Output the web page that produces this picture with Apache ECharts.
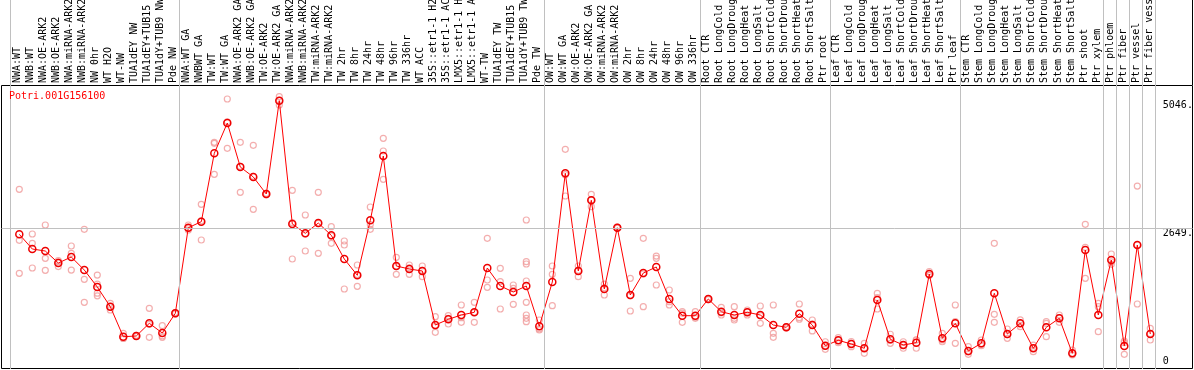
<!DOCTYPE html>
<html>
<head>
<meta charset="utf-8">
<script src="https://cdn.jsdelivr.net/npm/echarts/dist/echarts.min.js"></script>
<style>
html,body{margin:0;padding:0;background:#fff;}
#chart{width:1194px;height:370px;}
</style>
</head>
<body>
<div id="chart"></div>
<script>
const title = 'Potri.001G156100';

const categories = [
  'NWA:WT','NWB:WT','NWA:OE-ARK2','NWB:OE-ARK2','NWA:miRNA-ARK2','NWB:miRNA-ARK2','NW 0hr','WT H2O','WT-NW','TUA1dEY NW','TUA1dEY+TUB15 NW','TUA1dY+TUB9 NW','Pde NW',
  'NWA:WT GA','NWBWT GA','TW:WT','TW:WT GA','NWA:OE-ARK2 GA','NWB:OE-ARK2 GA','TW:OE-ARK2','TW:OE-ARK2 GA','NWA:miRNA-ARK2 GA','NWB:miRNA-ARK2 GA','TW:miRNA-ARK2','TW:miRNA-ARK2 GA',
  'TW 2hr','TW 8hr','TW 24hr','TW 48hr','TW 96hr','TW 336hr','WT ACC','35S::etr1-1 H2O','35S::etr1-1 ACC','LMX5::etr1-1 H2O','LMX5::etr1-1 ACC','WT-TW','TUA1dEY TW','TUA1dEY+TUB15 TW','TUA1dY+TUB9 TW','Pde TW',
  'OW:WT','OW:WT GA','OW:OE-ARK2','OW:OE-ARK2 GA','OW:miRNA-ARK2','OW:miRNA-ARK2 GA','OW 2hr','OW 8hr','OW 24hr','OW 48hr','OW 96hr','OW 336hr',
  'Root CTR','Root LongCold','Root LongDrought','Root LongHeat','Root LongSalt','Root ShortCold','Root ShortDrought','Root ShortHeat','Root ShortSalt','Ptr root',
  'Leaf CTR','Leaf LongCold','Leaf LongDrought','Leaf LongHeat','Leaf LongSalt','Leaf ShortCold','Leaf ShortDrought','Leaf ShortHeat','Leaf ShortSalt','Ptr leaf',
  'Stem CTR','Stem LongCold','Stem LongDrought','Stem LongHeat','Stem LongSalt','Stem ShortCold','Stem ShortDrought','Stem ShortHeat','Stem ShortSalt','Ptr shoot','Ptr xylem',
  'Ptr phloem','Ptr fiber','Ptr vessel','Ptr fiber vessel'
];

const means = [
  2536,2260,2222,1997,2110,1865,1546,1176,612,626,864,682,1052,
  2660,2773,4058,4627,3800,3613,3293,5046,2730,2555,2748,2517,
  2072,1766,2799,4007,1941,1884,1847,832,939,1020,1071,1903,1565,1452,1565,808,
  1640,3682,1847,3175,1509,2660,1396,1809,1922,1321,1007,1007,
  1321,1082,1020,1071,1020,832,789,1045,832,443,
  545,475,395,1302,564,456,500,1790,582,864,
  344,488,1428,663,864,395,789,958,301,2241,1020,
  2053,438,2335,663
];

const replicates = [
  [3381,2423,1803],[2542,2367,1903],[2711,2085,1860],[2020,1930,2040],[2316,2179,1865],[2630,1691,1259],[1771,1600,1430,1380],[1240,1114,1176],[676,582,580],[640,620,618],[1146,601,845],[819,600,627],[1052,1040,1065],
  [2711,2617,2652],[3100,2429,2790],[4264,3663,4246],[5078,4152,4650],[4264,3325,3811],[4208,3006,3625],[3293,3280,3305],[5121,4965,5052],[3363,2072,2755],[2899,2222,2544],[3325,2179,2740],[2679,2367,2505],
  [2410,2335,1509],[1959,1559,1780],[3049,2630,2720],[4340,4101,3569],[2104,1785,1934],[1959,1785,1908],[1941,1740,1860],[988,695,813],[1007,851,959],[1208,883,970],[1259,883,1071],[2461,1678,1540],[1897,1646,1133],[1584,1522,1221],[2805,2021,1978,1659,1259,1020,958,894],[738,926,760],
  [1941,1785,1195],[4133,3256,3657],[1941,1740,1860],[3288,3055,3182],[1602,1396,1530],[2660,2650,2670],[1710,1095,1383],[2461,1176,1790],[2128,2085,1584],[1490,1208,1270],[1082,883,1056],[1082,958,980],
  [1330,1310,1323],[1165,1020,1060],[1176,958,926],[1114,1020,1080],[1189,864,1007],[1208,676,601],[789,800,778],[1227,969,940],[926,720,850],[518,376,436],
  [594,500,541],[425,520,480],[488,301,396],[1428,1133,1345],[658,488,546],[518,395,455],[550,395,555],[1834,1771,1765],[676,518,552],[1208,488,896],
  [425,282,325],[550,443,471],[2367,1033,883],[757,582,650],[864,800,928],[456,331,398],[894,612,861],[1020,883,971],[269,363,301],[2724,1710,2289],[1240,1176,706],
  [2166,2020,1973],[532,282,500],[3443,1227,2335],[770,550,669]
];

const groupBoundaries = [0, 13, 41, 53, 63, 73, 84, 85, 86, 87, 88];
const referenceLine = 2649;
const yLabelValues = [5046, 2649];
const yLabelText = {5046: '5046.', 2649: '2649.', 0: '0'};

const FONT = 'DejaVu Sans Mono';
const N = categories.length;

const repData = [];
replicates.forEach((arr, i) => arr.forEach(v => repData.push([i, v])));

const gridBase = {containLabel: false, outerBoundsMode: 'none'};

const chart = echarts.init(document.getElementById('chart'), null, {renderer: 'canvas'});
chart.setOption({
  animation: false,
  backgroundColor: '#ffffff',
  title: {
    text: title, left: 9, top: 91, padding: 0,
    textStyle: {color: '#ff0000', fontSize: 10, fontFamily: FONT, fontWeight: 'normal'}
  },
  grid: [
    Object.assign({left: 12.8, top: 85, width: 1144, height: 284.3}, gridBase),
    Object.assign({left: 1.5, top: 85.5, width: 1191, height: 283, show: true, borderColor: '#000', borderWidth: 1, backgroundColor: 'transparent'}, gridBase),
    Object.assign({left: 10.5, top: 0, width: 1145, height: 369}, gridBase),
    Object.assign({left: 10.5, top: 85, width: 1145, height: 284}, gridBase)
  ],
  xAxis: [
    {gridIndex: 0, type: 'category', data: categories, boundaryGap: true, show: false},
    {gridIndex: 1, type: 'value', min: 0, max: 1, show: false},
    {gridIndex: 2, type: 'value', min: 0, max: N, show: false},
    {gridIndex: 3, type: 'category', data: categories, position: 'top', boundaryGap: true,
      axisLine: {show: false}, axisTick: {show: false}, splitLine: {show: false},
      axisLabel: {interval: 0, rotate: 90, margin: 2, fontSize: 10, fontFamily: FONT, color: '#000', hideOverlap: false}}
  ],
  yAxis: [
    {gridIndex: 0, type: 'value', min: 0, max: 5341, position: 'right',
      axisLine: {show: false}, axisTick: {show: false}, splitLine: {show: false},
      axisLabel: {customValues: yLabelValues, formatter: v => yLabelText[v], align: 'left', verticalAlign: 'top',
        margin: 6, fontSize: 10, fontFamily: FONT, color: '#000'}},
    {gridIndex: 0, type: 'value', min: 0, max: 5341, position: 'right',
      axisLine: {show: false}, axisTick: {show: false}, splitLine: {show: false},
      axisLabel: {customValues: [0], formatter: v => yLabelText[v], align: 'left', verticalAlign: 'bottom',
        padding: [0, 0, 3, 0], margin: 6, fontSize: 10, fontFamily: FONT, color: '#000'}},
    {gridIndex: 1, type: 'value', min: 0, max: 5355, show: false},
    {gridIndex: 2, type: 'value', min: 0, max: 1, show: false},
    {gridIndex: 3, type: 'value', show: false}
  ],
  graphic: [
    {type: 'line', shape: {x1: 1192.5, y1: 0, x2: 1192.5, y2: 85}, style: {stroke: '#000', lineWidth: 1}, silent: true}
  ],
  series: [
    {
      type: 'line', xAxisIndex: 2, yAxisIndex: 3, data: [], silent: true,
      markLine: {silent: true, symbol: ['none', 'none'], label: {show: false}, animation: false,
        lineStyle: {color: '#c0c0c0', width: 1, type: 'solid'},
        data: groupBoundaries.map(b => ({xAxis: b}))}
    },
    {
      type: 'line', xAxisIndex: 1, yAxisIndex: 2, data: [], silent: true,
      markLine: {silent: true, symbol: ['none', 'none'], label: {show: false}, animation: false,
        lineStyle: {color: '#c0c0c0', width: 1, type: 'solid'},
        data: [{yAxis: referenceLine}]}
    },
    {
      type: 'scatter', xAxisIndex: 0, yAxisIndex: 0, data: repData, silent: true,
      symbol: 'circle', symbolSize: 6, z: 3,
      itemStyle: {color: 'rgba(255,255,255,0)', borderColor: '#f09a9a', borderWidth: 1.2}
    },
    {
      type: 'line', xAxisIndex: 0, yAxisIndex: 0, data: means, silent: true, z: 4,
      symbol: 'circle', symbolSize: 7, showAllSymbol: true,
      lineStyle: {color: '#ff0000', width: 1},
      itemStyle: {color: 'rgba(255,255,255,0)', borderColor: '#ee0000', borderWidth: 1.5}
    }
  ]
});
</script>
</body>
</html>
